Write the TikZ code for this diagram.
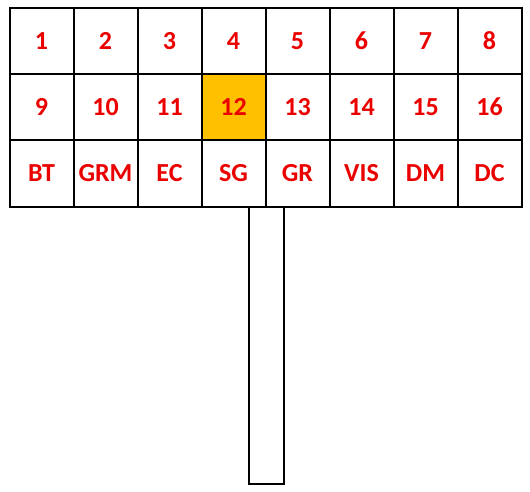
\documentclass[tikz,border=0pt]{standalone}
\usepackage{fontspec}
\setmainfont{Carlito}[Numbers=Lining]
\definecolor{cellred}{RGB}{235,0,0}
\definecolor{cellorange}{RGB}{255,192,0}
\begin{document}
\begin{tikzpicture}[x=1pt,y=-1pt,
  cell/.style={draw=black,line width=2pt,minimum width=64pt,minimum height=66pt,inner sep=0pt,
    font=\fontsize{26}{28}\selectfont\bfseries,text=cellred,anchor=north west,
    text height=17pt,text depth=0pt},
  stem/.style={draw=black,line width=2pt}]
\useasboundingbox (0,0) rectangle (530,492);
\foreach \t [count=\i from 0] in {1,2,3,4,5,6,7,8}
  \node[cell] (a\i) at ({8.5+64*\i},7.5) {\t};
\foreach \t [count=\i from 0] in {9,10,11,12,13,14,15,16}
  \node[cell] (b\i) at ({8.5+64*\i},73.5) {\t};
\fill[cellorange] (b3.north west) ++(1,1) rectangle ([xshift=-1pt,yshift=1pt]b3.south east);
\node[cell] at (b3.north west) {12};
\foreach \t [count=\i from 0] in {BT,GRM,EC,SG,GR,VIS,DM,DC}
  \node[cell] (c\i) at ({8.5+64*\i},139.5) {\t};
\node[stem,minimum width=35pt,minimum height=277pt,inner sep=0pt,anchor=north] (s) at (266,205.5) {};
\end{tikzpicture}
\end{document}
